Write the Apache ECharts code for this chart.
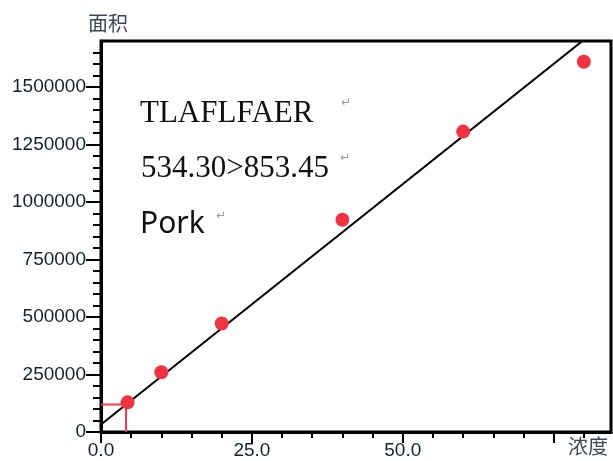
<!DOCTYPE html>
<html>
<head>
<meta charset="utf-8">
<script src="https://cdn.jsdelivr.net/npm/echarts@6/dist/echarts.min.js"></script>
<style>
  html, body { margin: 0; padding: 0; background: #fff; }
  #chart { width: 613px; height: 461px; }
</style>
</head>
<body>
<div id="chart"></div>
<script>
// Calibration standards: concentration vs. peak area
const concentration = [4.4, 10, 20, 40, 60, 80];
const peakArea = [129000, 260000, 472000, 923000, 1306000, 1610000];

// Fitted calibration line: area = slope * conc + intercept
const fitSlope = 20900;
const fitIntercept = 33000;

// Lower-limit marker (concentration, area)
const limitConc = 4.15;
const limitArea = 120000;

// Axis ranges and ticks
const xMax = 84.5;
const xMajorTicks = [0, 25, 50, 75];
const xLabelTicks = [0, 25, 50];
const xMinorTicks = [5, 10, 15, 20, 30, 35, 40, 45, 55, 60, 65, 70, 80];
const yMax = 1700000;
const yMajorTicks = [0, 250000, 500000, 750000, 1000000, 1250000, 1500000];
const yMinorTicks = [];
for (let v = 50000; v < yMax; v += 50000) { if (v % 250000 !== 0) yMinorTicks.push(v); }

// Annotation lines
const peptide = 'TLAFLFAER';
const transition = '534.30>853.45';
const matrix = 'Pork';
const yName = '面积';
const xName = '浓度';

const scatterData = concentration.map((c, i) => [c, peakArea[i]]);
const fitData = [0, xMax].map(x => [x, fitSlope * x + fitIntercept]);
const limitData = [[0, limitArea], [limitConc, limitArea], [limitConc, 0]];

const labelColor = '#16202e';
const labelFont = { fontFamily: 'Liberation Sans', fontSize: 19, color: labelColor };

const chart = echarts.init(document.getElementById('chart'), null, { renderer: 'canvas' });

chart.setOption({
  animation: false,
  backgroundColor: '#fff',
  grid: {
    left: 101, right: 2, top: 41, bottom: 29,
    show: true, borderColor: '#000', borderWidth: 3
  },
  xAxis: [
    {
      type: 'value', min: 0, max: xMax, interval: 25,
      axisLine: { show: true, lineStyle: { color: '#000', width: 3 } },
      axisTick: { show: true, customValues: xMajorTicks, length: 11, lineStyle: { color: '#000', width: 2 } },
      axisLabel: {
        customValues: xLabelTicks, margin: 9, ...labelFont,
        formatter: v => v.toFixed(1)
      },
      splitLine: { show: false }
    },
    {
      type: 'value', min: 0, max: xMax, interval: 5, position: 'bottom',
      axisLine: { show: false },
      axisTick: { show: true, customValues: xMinorTicks, length: 6, lineStyle: { color: '#000', width: 2 } },
      axisLabel: { show: false },
      splitLine: { show: false }
    }
  ],
  yAxis: [
    {
      type: 'value', min: 0, max: yMax, interval: 250000,
      axisLine: { show: true, lineStyle: { color: '#000', width: 3 } },
      axisTick: { show: true, customValues: yMajorTicks, length: 15, lineStyle: { color: '#000', width: 2 } },
      axisLabel: { customValues: yMajorTicks, margin: 15, ...labelFont, formatter: v => String(v) },
      splitLine: { show: false }
    },
    {
      type: 'value', min: 0, max: yMax, interval: 50000, position: 'left',
      axisLine: { show: false },
      axisTick: { show: true, customValues: yMinorTicks, length: 8, lineStyle: { color: '#000', width: 2 } },
      axisLabel: { show: false },
      splitLine: { show: false }
    }
  ],
  series: [
    {
      type: 'line', data: fitData, xAxisIndex: 0, yAxisIndex: 0,
      symbol: 'none', clip: true,
      lineStyle: { color: '#000', width: 2 }, z: 2
    },
    {
      type: 'line', data: limitData, xAxisIndex: 0, yAxisIndex: 0,
      symbol: 'none', clip: true,
      lineStyle: { color: '#ef3a44', width: 2 }, z: 3
    },
    {
      type: 'scatter', data: scatterData, xAxisIndex: 0, yAxisIndex: 0,
      symbol: 'circle', symbolSize: 14,
      itemStyle: { color: '#ef3340', opacity: 1 }, z: 4
    }
  ],
  graphic: [
    { type: 'text', left: 88, top: 13, style: { text: yName, font: '20px "Noto Sans CJK SC"', fill: '#3d4858' } },
    { type: 'text', left: 568, top: 436, style: { text: xName, font: '20px "Noto Sans CJK SC"', fill: '#3d4858' } },
    { type: 'text', x: 140, y: 98, style: { text: peptide, font: '31px "Liberation Serif"', fill: '#111', textVerticalAlign: 'alphabetic' } },
    { type: 'text', x: 341, y: 97, style: { text: '\u21B5', font: '12px "DejaVu Sans"', fill: '#9a9a9a', textVerticalAlign: 'alphabetic' } },
    { type: 'text', x: 141, y: 153, style: { text: transition, font: '31px "Liberation Serif"', fill: '#111', textVerticalAlign: 'alphabetic' } },
    { type: 'text', x: 340, y: 152, style: { text: '\u21B5', font: '12px "DejaVu Sans"', fill: '#9a9a9a', textVerticalAlign: 'alphabetic' } },
    { type: 'text', x: 140, y: 209, style: { text: matrix, font: '30px "Noto Sans"', fill: '#111', textVerticalAlign: 'alphabetic' } },
    { type: 'text', x: 216, y: 210, style: { text: '\u21B5', font: '12px "DejaVu Sans"', fill: '#9a9a9a', textVerticalAlign: 'alphabetic' } }
  ]
});
</script>
</body>
</html>
